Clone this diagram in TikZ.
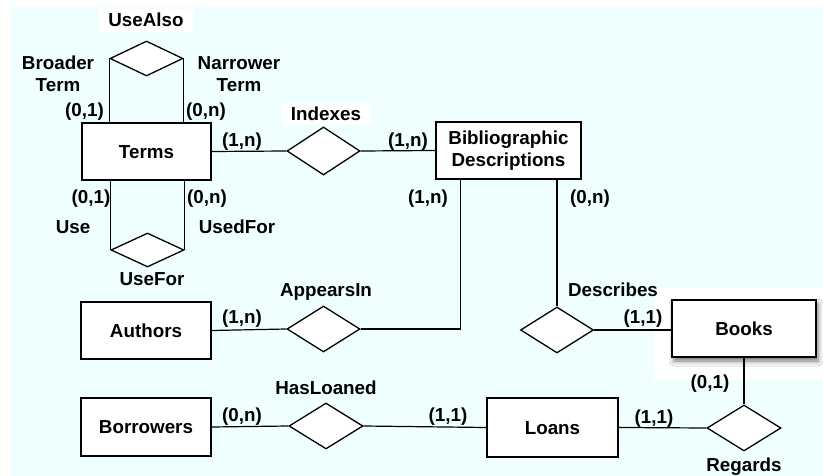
\documentclass[tikz,border=0pt]{standalone}
\usepackage{fontspec}
\setmainfont{Liberation Sans}
\usetikzlibrary{shapes.geometric,shadows.blur}
\definecolor{paper}{RGB}{239,255,255}

\begin{document}
\begin{tikzpicture}[x=1pt,y=-1pt,
  every node/.style={font=\fontsize{18.8}{22}\selectfont\bfseries},
  box/.style={draw, line width=1.7pt, fill=white, inner sep=0pt},
  entity/.style={box, text height=13.5pt, text depth=0pt},
  rel/.style={diamond, draw, line width=1.3pt, fill=white, inner sep=0pt,
              minimum width=73pt, minimum height=46pt},
  lbl/.style={inner sep=0pt, text height=13.5pt, text depth=0pt},
  lbltwo/.style={inner sep=0pt, align=center},
  link/.style={line width=1.2pt}]

\useasboundingbox (0,0) rectangle (823,476);

% canvas and white patches behind some labels
\fill[paper] (11,7) rectangle (823,476);
\fill[white] (99,9) rectangle (193,32);
\fill[white] (282,103) rectangle (371,125);
\fill[white] (654,288) rectangle (823,380);

% entities
\node[entity, minimum width=129pt, minimum height=57pt] (terms) at (146.5,151.5) {Terms};
\node[box, align=center, minimum width=145pt, minimum height=57pt] (bd) at (508.5,150.5) {Bibliographic\\Descriptions};
\node[entity, minimum width=130pt, minimum height=57pt] (authors) at (146,330.5) {Authors};
\node[entity, minimum width=130pt, minimum height=58pt] (borrowers) at (146,427) {Borrowers};
\node[entity, minimum width=131pt, minimum height=59pt] (loans) at (552.5,427.5) {Loans};
\node[entity, minimum width=144pt, minimum height=57pt,
      blur shadow={shadow xshift=2pt, shadow yshift=-4pt, shadow blur radius=5pt, shadow opacity=55}]
      (books) at (744,328.5) {Books};

% relationships
\node[rel, minimum height=35pt] (usealso) at (146.5,58.5) {};
\node[rel, minimum height=34pt] (usefor) at (147.5,250) {};
\node[rel, minimum height=48pt] (indexes) at (323.5,151) {};
\node[rel] (appearsin) at (323.5,329) {};
\node[rel] (describes) at (557,330) {};
\node[rel, minimum width=74pt] (hasloaned) at (326,426) {};
\node[rel, minimum width=74pt] (regards) at (744,428) {};

% connectors
\draw[link] (usealso.west) -- (usealso.west |- terms.north);
\draw[link] (usealso.east) -- (usealso.east |- terms.north);
\draw[link] (usefor.west) -- (usefor.west |- terms.south);
\draw[link] (usefor.east) -- (usefor.east |- terms.south);
\draw[link] (terms.east) -- (indexes.west);
\draw[link] (indexes.east) -- (bd.west);
\draw[link] (authors.east) -- (appearsin.west);
\draw[link] (appearsin.east) -| ([xshift=25pt]bd.south west);
\draw[link] (bd.south -| describes.north) -- (describes.north);
\draw[link] (describes.east) -- (describes.east -| books.west);
\draw[link] (books.south) -- (regards.north);
\draw[link] (loans.east) -- (regards.west);
\draw[link] (borrowers.east) -- (hasloaned.west);
\draw[link] (hasloaned.east) -- (loans.west);

% relationship names, roles and cardinalities
\node[lbl] (l-usealso) at (146,20) {UseAlso};
\node[lbltwo] (l-broader) at (58,74) {Broader\\Term};
\node[lbltwo] (l-narrower) at (239,74) {Narrower\\Term};
\node[lbl] (c-ba) at (84.5,110) {(0,1)};
\node[lbl] (c-na) at (206,110) {(0,n)};
\node[lbl] (c-ti) at (242,140) {(1,n)};
\node[lbl] (l-indexes) at (326,114) {Indexes};
\node[lbl] (c-bi) at (408,140) {(1,n)};
\node[lbl] (c-us) at (91,197) {(0,1)};
\node[lbl] (c-uf) at (207,197) {(0,n)};
\node[lbl] (l-use) at (73,227) {Use};
\node[lbl] (l-usedfor) at (237,227) {UsedFor};
\node[lbl] (l-usefor) at (152,279) {UseFor};
\node[lbl] (c-ba2) at (428,197) {(1,n)};
\node[lbl] (c-bd2) at (590,197) {(0,n)};
\node[lbl] (l-appearsin) at (326,290) {AppearsIn};
\node[lbl] (c-au) at (242,317) {(1,n)};
\node[lbl] (l-describes) at (613,290) {Describes};
\node[lbl] (c-bk) at (643,317) {(1,1)};
\node[lbl] (c-bk2) at (710,382) {(0,1)};
\node[lbl] (l-hasloaned) at (326,388) {HasLoaned};
\node[lbl] (c-bo) at (242,415) {(0,n)};
\node[lbl] (c-lo) at (448,415) {(1,1)};
\node[lbl] (c-lo2) at (654,417) {(1,1)};
\node[lbl] (l-regards) at (744,465) {Regards};
\end{tikzpicture}
\end{document}
